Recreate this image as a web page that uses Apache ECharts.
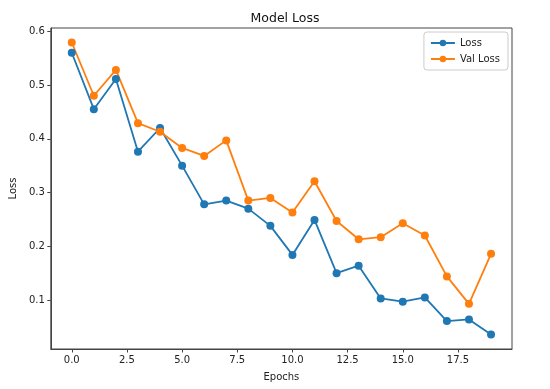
<!DOCTYPE html>
<html>
<head>
<meta charset="utf-8">
<script src="https://cdn.jsdelivr.net/npm/echarts@6/dist/echarts.min.js"></script>
<style>html,body{margin:0;padding:0;background:#fff}#c{width:550px;height:389px}</style>
</head>
<body>
<div id="c"></div>
<script>
const epochs = [0,1,2,3,4,5,6,7,8,9,10,11,12,13,14,15,16,17,18,19];
const loss = [0.560,0.455,0.511,0.376,0.420,0.350,0.278,0.285,0.270,0.238,0.184,0.249,0.150,0.164,0.103,0.097,0.105,0.061,0.064,0.036];
const valLoss = [0.579,0.480,0.528,0.429,0.413,0.383,0.368,0.397,0.285,0.290,0.263,0.321,0.247,0.213,0.217,0.243,0.220,0.144,0.093,0.186];
const xTicks = [0,2.5,5,7.5,10,12.5,15,17.5];
const yTicks = [0.1,0.2,0.3,0.4,0.5,0.6];

const font = 'DejaVu Sans';
const chart = echarts.init(document.getElementById('c'), null, {renderer:'canvas'});
chart.setOption({
  animation:false,
  backgroundColor:'#fff',
  title:{text:'Model Loss',left:280,top:7,textAlign:'center',
    textStyle:{fontFamily:font,fontSize:12.5,fontWeight:'normal',color:'#111'}},
  grid:{left:48,right:38,top:28,bottom:40,show:true,borderColor:'#444',borderWidth:1},
  legend:{orient:'vertical',right:42,top:32,itemWidth:24,itemHeight:8,itemGap:6,
    padding:[6,8,6,6],borderColor:'#ccc',borderWidth:1,borderRadius:3,
    textStyle:{fontFamily:font,fontSize:10,color:'#222'},
    data:['Loss','Val Loss']},
  xAxis:{type:'value',min:-0.95,max:19.95,name:'Epochs',nameLocation:'middle',nameGap:23,
    nameTextStyle:{fontFamily:font,fontSize:10,color:'#222'},
    axisLine:{show:true,onZero:false,lineStyle:{color:'#444'}},
    axisTick:{show:true,length:3.5,customValues:xTicks,lineStyle:{color:'#444'}},
    axisLabel:{customValues:xTicks,fontFamily:font,fontSize:10,color:'#222',margin:6,
      formatter:v=>v.toFixed(1)},
    splitLine:{show:false}},
  yAxis:{type:'value',min:0.009,max:0.606,name:'Loss',nameLocation:'middle',nameGap:32,
    nameTextStyle:{fontFamily:font,fontSize:10,color:'#222'},
    axisLine:{show:true,onZero:false,lineStyle:{color:'#444'}},
    axisTick:{show:true,length:3.5,customValues:yTicks,lineStyle:{color:'#444'}},
    axisLabel:{customValues:yTicks,fontFamily:font,fontSize:10,color:'#222',margin:6,
      formatter:v=>v.toFixed(1)},
    splitLine:{show:false}},
  series:[
    {name:'Loss',type:'line',data:epochs.map((e,i)=>[e,loss[i]]),symbol:'circle',symbolSize:8,
      lineStyle:{color:'#1f77b4',width:1.8},itemStyle:{color:'#1f77b4'}},
    {name:'Val Loss',type:'line',data:epochs.map((e,i)=>[e,valLoss[i]]),symbol:'circle',symbolSize:8,
      lineStyle:{color:'#ff7f0e',width:1.8},itemStyle:{color:'#ff7f0e'}}
  ]
});
</script>
</body>
</html>
